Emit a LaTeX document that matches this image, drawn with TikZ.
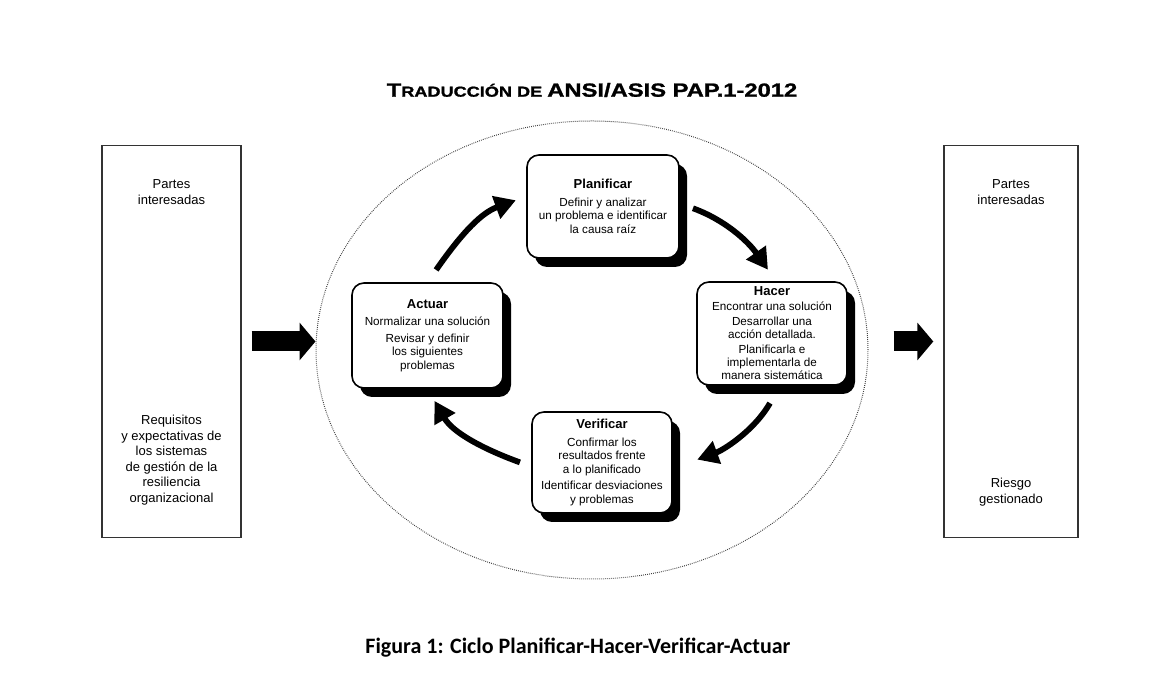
\documentclass[tikz,border=0pt]{standalone}
\usepackage{fontspec}
\setmainfont{Liberation Sans}
\newfontfamily\capfont{Carlito}
\newfontfamily\titlefont[BoldFeatures={FakeBold=1.2}]{Liberation Sans}
\usetikzlibrary{arrows.meta,calc,shapes.geometric,shadows,positioning}

\begin{document}
\begin{tikzpicture}[x=1pt,y=1pt,
  stepbox/.style={draw=black,line width=1.6pt,rounded corners=12pt,fill=white,align=center,inner sep=1pt,
    font=\fontsize{11.7}{13.5}\selectfont,
    drop shadow={shadow xshift=8pt,shadow yshift=-9pt,fill=black,opacity=1}},
  sidebox/.style={draw=black!80,line width=1.4pt,minimum width=139pt,minimum height=392pt,inner sep=0pt},
  sidetext/.style={align=center,inner sep=0pt,font=\fontsize{13}{15.5}\selectfont},
  turn/.style={line width=5.8pt,-{Triangle[width=23pt,length=21pt]}},
  bigarrow/.style={line width=20pt,-{Triangle[width=37pt,length=16pt]}}]
\useasboundingbox (0,0) rectangle (1163,695);
% the title and the caption
\node (title) at (592,605) {\scalebox{1.25}[1]{\titlefont\bfseries\fontsize{19}{19}\selectfont T\fontsize{14.5}{14.5}\selectfont RADUCCIÓN DE \fontsize{19}{19}\selectfont ANSI/ASIS PAP.1-2012}};
\node (caption) at (578,47) {\capfont\bfseries\fontsize{22}{22}\selectfont Figura 1: Ciclo Planificar-Hacer-Verificar-Actuar};
% the dotted ring
\node[draw=black!75,ellipse,line width=1pt,dash pattern=on 0.8pt off 1.2pt,minimum width=552pt,minimum height=458pt,inner sep=0pt] (ring) at (592,345) {};
% the side boxes
\node[sidebox] (leftbox) at (171.5,353.5) {};
\node[sidebox,minimum width=134pt] (rightbox) at (1011,353.5) {};
\node[sidetext,below=35pt of leftbox.north] (lefttop) {Partes\\interesadas};
\node[sidetext,above=33pt of leftbox.south] (leftbottom) {Requisitos\\y expectativas de\\los sistemas\\de gestión de la\\resiliencia\\organizacional};
\node[sidetext,below=35pt of rightbox.north] (righttop) {Partes\\interesadas};
\node[sidetext,above=32pt of rightbox.south] (rightbottom) {Riesgo\\gestionado};
% the four steps
\node[stepbox,minimum width=152pt,minimum height=103pt] (plan) at (603,488.5)
  {{\bfseries\fontsize{13}{14}\selectfont Planificar}\\[4pt]Definir y analizar\\un problema e identificar\\la causa raíz};
\node[stepbox,minimum width=150pt,minimum height=103pt,font=\fontsize{11.7}{13}\selectfont] (hacer) at (772,361.5)
  {{\bfseries\fontsize{13}{14}\selectfont Hacer}\\[2pt]Encontrar una solución\\[2pt]Desarrollar una\\acción detallada.\\[2pt]Planificarla e\\implementarla de\\manera sistemática};
\node[stepbox,minimum width=140pt,minimum height=101pt] (verif) at (602,232.5)
  {{\bfseries\fontsize{13}{14}\selectfont Verificar}\\[4pt]Confirmar los\\resultados frente\\a lo planificado\\[3pt]Identificar desviaciones\\y problemas};
\node[stepbox,minimum width=151pt,minimum height=105pt] (actuar) at (427.5,359.5)
  {{\bfseries\fontsize{13}{14}\selectfont Actuar}\\[4pt]Normalizar una solución\\[3pt]Revisar y definir\\los siguientes\\problemas};
% the cycle arrows
\draw[turn,shorten <=15pt,shorten >=11pt] (actuar.north) to[out=55,in=200] ([yshift=10pt]plan.west);
\draw[turn,shorten <=14pt,shorten >=14pt] ([yshift=3pt]plan.east) to[out=-20,in=125] ([xshift=4pt]hacer.north);
\draw[turn,shorten <=20pt,shorten >=26pt] ([xshift=8pt]hacer.south) to[out=240,in=20] ([yshift=-6pt]verif.east);
\draw[turn,shorten <=12pt,shorten >=14pt] ([yshift=-4pt]verif.west) to[out=160,in=300] (actuar.south);
% the way in and the way out
\draw[bigarrow,shorten <=10pt] (leftbox.east) -- (leftbox.east -| ring.west);
\draw[bigarrow,shorten <=25pt,shorten >=10pt] (ring.east |- rightbox.west) -- (rightbox.west);
\end{tikzpicture}
\end{document}
